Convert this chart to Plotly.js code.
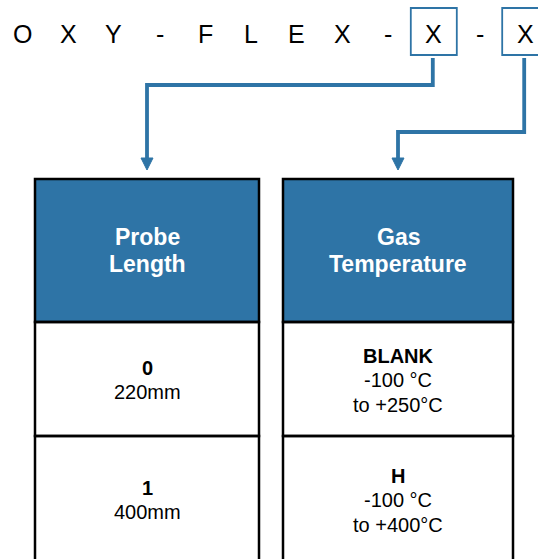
<!DOCTYPE html>
<html>
<head>
<meta charset="utf-8">
<script src="https://cdn.plot.ly/plotly-3.0.1.min.js"></script>
<style>html,body{margin:0;padding:0;background:#fff;}#chart{width:538px;height:559px;}</style>
</head>
<body>
<div id="chart"></div>
<script>
// ---- data ----
var codeChars = ['O','X','Y','-','F','L','E','X','-','X','-','X'];
var boxedIdx = [9, 11];
var columnTitles = [['Probe','Length'], ['Gas','Temperature']];
var optionCodes = [['0','1'], ['BLANK','H']];
var optionDescs = [[['220mm'],['400mm']], [['-100 °C','to +250°C'],['-100 °C','to +400°C']]];

// ---- layout constants ----
var BLUE = '#2e74a6';
var FONT = 'Arial, "Liberation Sans", sans-serif';
var charX0 = 22.5, charStep = 45.7, charY = 34;
var colX = [[35, 259], [283, 513]];
var tableTop = 179, headerBottom = 322, rowH = 114;
var rowCenters = [380, 500];
var lineStep = 24.5, headStep = 27;
var arrowTipY = 170;
var bendY = [85, 132];

var shapes = [], annotations = [];
function txt(x, y, t, size, color) {
  annotations.push({x: x, y: y, xref: 'x', yref: 'y', text: t, showarrow: false,
    xanchor: 'center', yanchor: 'middle', font: {family: FONT, size: size, color: color}});
}

// code letters
codeChars.forEach(function(c, i) { txt(charX0 + charStep * i, charY, c, 25, '#000'); });

// boxes around the placeholders and connector arrows
boxedIdx.forEach(function(idx, k) {
  var cx = charX0 + charStep * idx;
  shapes.push({type: 'rect', xref: 'x', yref: 'y', x0: cx - 23, x1: cx + 23, y0: 8, y1: 55,
    line: {color: BLUE, width: 1.8}, fillcolor: 'rgba(0,0,0,0)'});
  var tx = (colX[k][0] + colX[k][1]) / 2;
  var sx = cx - 1;
  shapes.push({type: 'path', xref: 'x', yref: 'y',
    path: 'M' + sx + ',58 L' + sx + ',' + bendY[k] + ' L' + tx + ',' + bendY[k] + ' L' + tx + ',' + (arrowTipY - 10),
    line: {color: BLUE, width: 3.8}, fillcolor: 'rgba(0,0,0,0)'});
  shapes.push({type: 'path', xref: 'x', yref: 'y',
    path: 'M' + (tx - 6) + ',' + (arrowTipY - 12) + ' L' + (tx + 6) + ',' + (arrowTipY - 12) + ' L' + tx + ',' + arrowTipY + ' Z',
    line: {color: BLUE, width: 1}, fillcolor: BLUE});
});

// tables
columnTitles.forEach(function(t, k) {
  var x0 = colX[k][0], x1 = colX[k][1], cx = (x0 + x1) / 2;
  shapes.push({type: 'rect', xref: 'x', yref: 'y', x0: x0, x1: x1, y0: tableTop, y1: headerBottom,
    line: {color: '#000', width: 2.5}, fillcolor: BLUE, layer: 'below'});
  var hc = (tableTop + headerBottom) / 2;
  t.forEach(function(line, j) {
    txt(cx, hc + (j - (t.length - 1) / 2) * headStep, '<b>' + line + '</b>', 23, '#fff');
  });
  optionCodes[k].forEach(function(code, r) {
    var y0 = headerBottom + rowH * r, y1 = y0 + rowH;
    shapes.push({type: 'rect', xref: 'x', yref: 'y', x0: x0, x1: x1, y0: y0, y1: (r === optionCodes[k].length - 1 ? 600 : y1),
      line: {color: '#000', width: 2.5}, fillcolor: 'rgba(0,0,0,0)'});
    var lines = ['<b>' + code + '</b>'].concat(optionDescs[k][r]);
    lines.forEach(function(line, j) {
      txt(cx, rowCenters[r] + (j - (lines.length - 1) / 2) * lineStep, line, 20, '#000');
    });
  });
});

var layout = {
  width: 538, height: 559,
  margin: {l: 0, r: 0, t: 0, b: 0},
  paper_bgcolor: '#fff', plot_bgcolor: '#fff',
  xaxis: {range: [0, 538], visible: false, fixedrange: true},
  yaxis: {range: [559, 0], visible: false, fixedrange: true},
  shapes: shapes, annotations: annotations, showlegend: false
};
Plotly.newPlot('chart', [{x: [], y: [], type: 'scatter'}], layout, {staticPlot: true, displayModeBar: false});
</script>
</body>
</html>
